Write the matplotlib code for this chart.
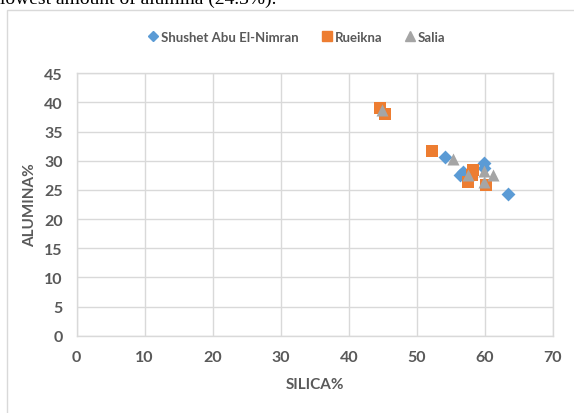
import matplotlib
matplotlib.use("Agg")
import matplotlib.pyplot as plt
from matplotlib.patches import Rectangle
from matplotlib.lines import Line2D

# Silica / alumina content (%) per locality
shushet_silica = [54.1, 56.3, 56.8, 59.9, 59.9, 63.4]
shushet_alumina = [30.6, 27.6, 28.1, 29.7, 28.8, 24.3]

rueikna_silica = [44.6, 45.4, 52.3, 58.3, 58.2, 57.5, 60.2]
rueikna_alumina = [39.1, 38.1, 31.6, 28.5, 27.6, 26.3, 25.9]

salia_silica = [44.9, 55.4, 57.5, 59.9, 59.9, 61.2]
salia_alumina = [38.7, 30.3, 27.5, 28.3, 26.3, 27.5]

x_ticks = [0, 10, 20, 30, 40, 50, 60, 70]
y_ticks = [0, 5, 10, 15, 20, 25, 30, 35, 40, 45]

BLUE = "#5B9BD5"
ORANGE = "#ED7D31"
GRAY = "#A5A5A5"
TEXT = "#595959"
GRID = "#D9D9D9"

plt.rcParams["font.family"] = ["Lato", "DejaVu Sans"]

W, H = 574, 414
fig = plt.figure(figsize=(W / 100, H / 100), dpi=100)
fig.patch.set_facecolor("white")

# caption line from the surrounding document, partly clipped at the top
fig.text(0.0, 1 - 4 / H, "lowest amount of alumina (24.3%).", family="Liberation Serif",
         fontsize=14, color="black", ha="left", va="baseline")

# chart frame
fig.patches.append(Rectangle((7 / W, -0.05), 1.1, (1 - 11 / H) + 0.05,
                             transform=fig.transFigure, fill=False,
                             edgecolor=GRID, linewidth=1.0))

ax = fig.add_axes([76.7 / W, 1 - 336.7 / H, (552.7 - 76.7) / W, (336.7 - 74.3) / H])
ax.set_xlim(0, 70)
ax.set_ylim(0, 45)
ax.set_xticks(x_ticks)
ax.set_yticks(y_ticks)
ax.grid(True, color=GRID, linewidth=1.0)
ax.set_axisbelow(True)
for s in ax.spines.values():
    s.set_color(GRID)
    s.set_linewidth(1.0)
ax.tick_params(length=0, labelsize=11.5, colors=TEXT, pad=10)
for lbl in ax.get_xticklabels() + ax.get_yticklabels():
    lbl.set_fontweight("bold")

ax.scatter(shushet_silica, shushet_alumina, marker="D", s=50, color=BLUE, zorder=3, linewidths=0)
ax.scatter(rueikna_silica, rueikna_alumina, marker="s", s=70, color=ORANGE, zorder=3, linewidths=0)
ax.scatter(salia_silica, salia_alumina, marker="^", s=75, color=GRAY, zorder=3, linewidths=0)

ax.set_xlabel("SILICA%", fontsize=11, fontweight="bold", color=TEXT, labelpad=10)
ax.set_ylabel("ALUMINA%", fontsize=11, fontweight="bold", color=TEXT, labelpad=5)

handles = [
    Line2D([], [], marker="D", linestyle="", color=BLUE, markersize=5.5),
    Line2D([], [], marker="s", linestyle="", color=ORANGE, markersize=7.5),
    Line2D([], [], marker="^", linestyle="", color=GRAY, markersize=7.5),
]
leg = fig.legend(handles, ["Shushet Abu El-Nimran", "Rueikna", "Salia"],
                 loc="center", bbox_to_anchor=(296 / W, 1 - 38 / H), ncol=3,
                 frameon=False, handletextpad=0.1, columnspacing=1.6,
                 handlelength=1.0, prop={"size": 9.5, "weight": "bold"})
for t in leg.get_texts():
    t.set_color(TEXT)

fig.savefig("out.png", dpi=100, facecolor="white")
